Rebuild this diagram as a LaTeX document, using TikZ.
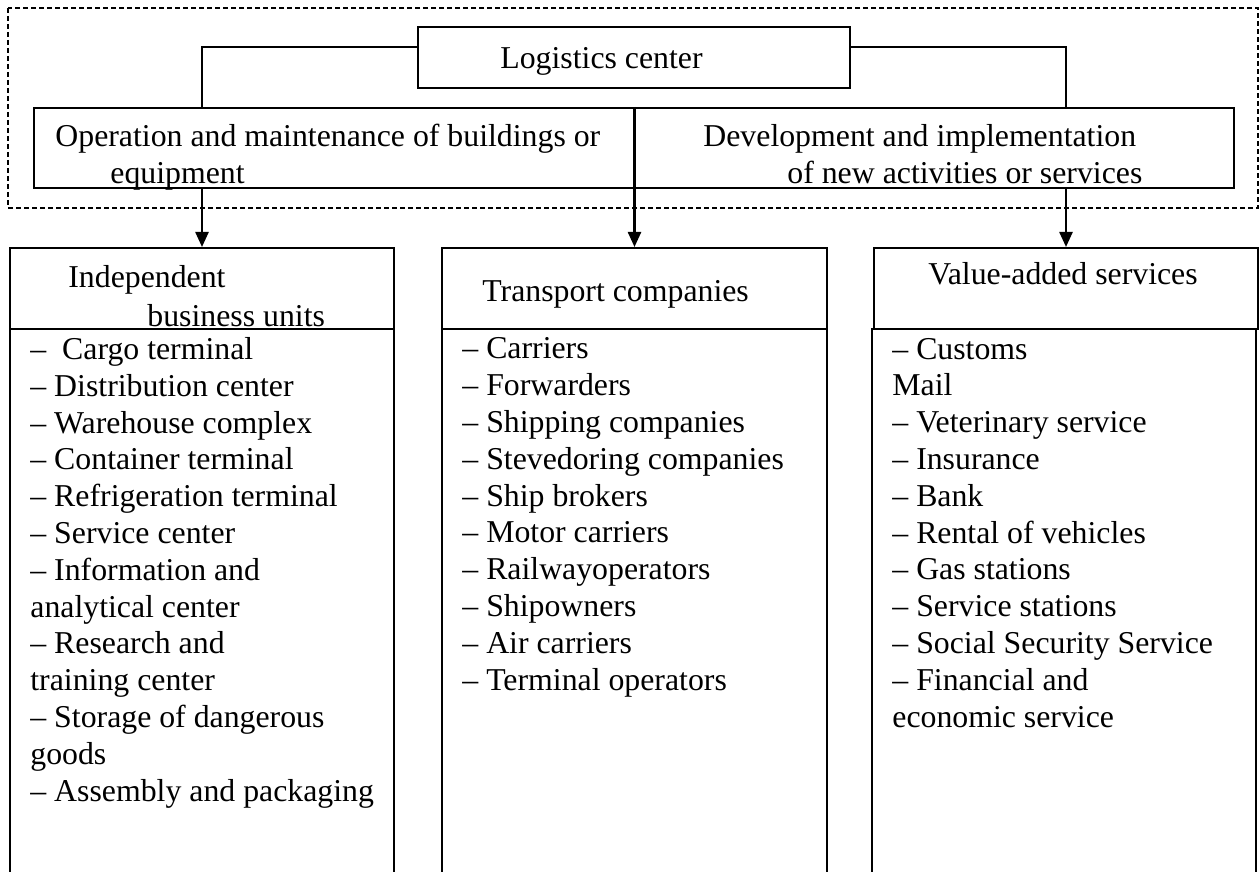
\documentclass[tikz,border=0pt]{standalone}
\usepackage{fontspec}
\setmainfont{Liberation Serif}
\usetikzlibrary{arrows.meta,fit}

\begin{document}
\begin{tikzpicture}[x=0.5pt,y=-0.5pt,
	box/.style={draw,line width=1pt,inner sep=0pt},
	lbl/.style={anchor=base west,inner sep=0pt,align=left,font=\fontsize{15.9}{18.4}\selectfont},
	link/.style={line width=0.75pt},
	arr/.style={line width=1.2pt,-{Triangle[length=7.5pt,width=6.5pt]}}]
	\fill[white] (0,0) rectangle (1260,872);
	\useasboundingbox (0,0) rectangle (1260,872);
	\draw[line width=0.75pt, dash pattern=on 2.5pt off 1.5pt] (8,8) rectangle (1258,208);

	\node[box, fit={(418,27) (850,88)}] (logc) {};
	\node[box, fit={(34,108) (1234,188)}] (big) {};
	\node[lbl] (logct) at (500,69) {Logistics center};
	\node[lbl] (opt) at (55,147) {Operation and maintenance of buildings or};
	\node[lbl] (opt2) at (110,184) {equipment};
	\node[lbl] (devt) at (703,147) {Development and implementation};
	\node[lbl] (devt2) at (787,184) {of new activities or services};

	\node[box, fit={(10,248) (394,329)}] (ibu) {};
	\node[box, fit={(10,329) (394,876)}] (ibul) {};
	\node[box, fit={(442,248) (827,329)}] (tc) {};
	\node[box, fit={(442,329) (827,876)}] (tcl) {};
	\node[box, fit={(874,248) (1258,329)}] (vas) {};
	\node[box, fit={(872,329) (1256,876)}] (vasl) {};

	\node[lbl] (ibut) at (68,287) {Independent};
	\node[lbl] (ibut2) at (147,326) {business units};
	\node[lbl] (tct) at (482,301) {Transport companies};
	\node[lbl] (vast) at (928,285) {Value-added services};

	% lists are placed by the baseline of their last line
	\node[lbl] (ibuitems) at (30,801) {--~ Cargo terminal\\-- Distribution center\\-- Warehouse complex\\-- Container terminal\\-- Refrigeration terminal\\-- Service center\\-- Information and\\analytical center\\-- Research and\\training center\\-- Storage of dangerous\\goods\\-- Assembly and packaging};
	\node[lbl] (tcitems) at (462,690) {-- Carriers\\-- Forwarders\\-- Shipping companies\\-- Stevedoring companies\\-- Ship brokers\\-- Motor carriers\\-- Railwayoperators\\-- Shipowners\\-- Air carriers\\-- Terminal operators};
	\node[lbl] (vasitems) at (892,727) {-- Customs\\Mail\\-- Veterinary service\\-- Insurance\\-- Bank\\-- Rental of vehicles\\-- Gas stations\\-- Service stations\\-- Social Security Service\\-- Financial and\\economic service};

	\draw[link] ([yshift=5.25pt]logc.west) -| (big.north -| ibu.north);
	\draw[link] ([yshift=5.25pt]logc.east) -| (big.north -| vas.north);
	\draw[arr] (big.south -| ibu.north) -- (ibu.north);
	\draw[arr] (big.north -| tc.north) -- (tc.north);
	\draw[arr] (big.south -| vas.north) -- (vas.north);
\end{tikzpicture}
\end{document}
